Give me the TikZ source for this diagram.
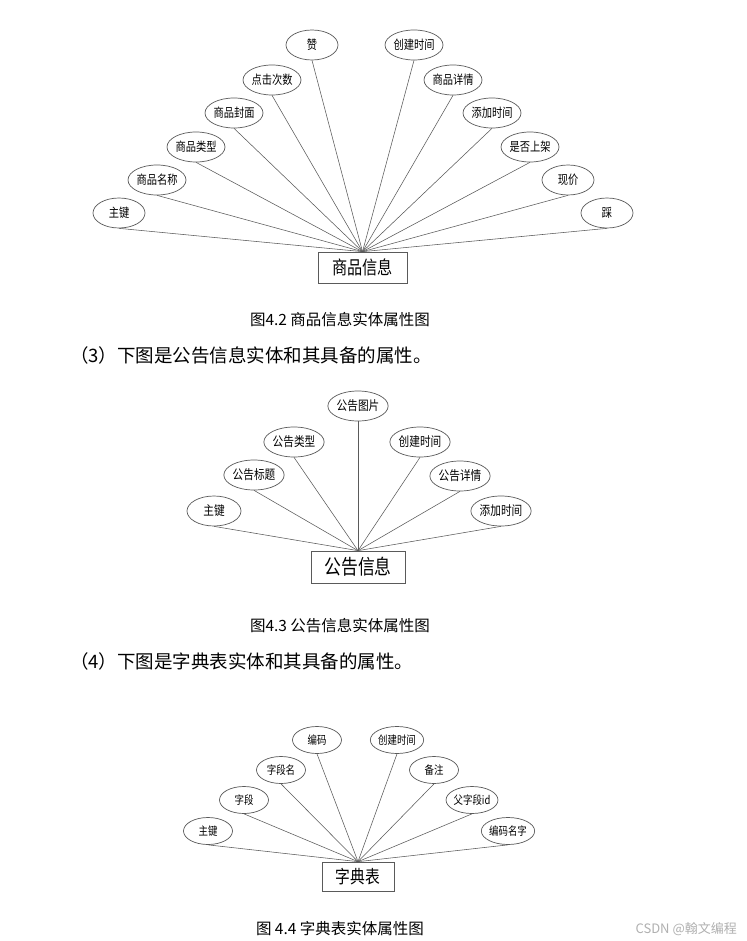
\documentclass[tikz,border=0pt]{standalone}
\usepackage{fontspec}
\usetikzlibrary{shapes.geometric}
\newfontfamily\cjk{Noto Sans CJK SC}
\newfontfamily\cjkn[FakeStretch=0.82]{Noto Sans CJK SC}
\definecolor{linegray}{HTML}{5A5A5A}
\definecolor{wm}{HTML}{B0B0B0}
\tikzset{
  attr/.style={ellipse, draw=linegray, line width=0.7pt, inner sep=0pt,
    minimum width=52pt, minimum height=30pt, font=\cjkn\fontsize{12.5}{12.5}\selectfont},
  attrs/.style={attr, minimum width=49pt, minimum height=27pt, font=\cjkn\fontsize{11.5}{11.5}\selectfont},
  attrm/.style={attr, minimum width=54pt, minimum height=30pt, font=\cjkn\fontsize{13}{13}\selectfont},
  ent/.style={rectangle, draw=linegray, line width=0.7pt, inner sep=0pt},
  conn/.style={draw=linegray, line width=0.55pt},
  figcap/.style={font=\cjk\fontsize{15.5}{15.5}\selectfont, inner sep=0pt},
  para/.style={font=\cjk\fontsize{18.5}{18.5}\selectfont, inner sep=0pt, anchor=west}
}
\begin{document}
\begin{tikzpicture}[x=1pt,y=-1pt]
\useasboundingbox[fill=white] (0,0) rectangle (746,941);

% ---------- Figure 4.2 ----------
\node[ent, minimum width=89pt, minimum height=31pt, font=\cjkn\fontsize{18.5}{18.5}\selectfont] (g) at (362.5,267.5) {商品信息};
\node[attr] (g1) at (119,213) {主键};
\node[attr] (g2) at (157,180) {商品名称};
\node[attr] (g3) at (196,147) {商品类型};
\node[attr] (g4) at (234,113) {商品封面};
\node[attr] (g5) at (272,80) {点击次数};
\node[attr] (g6) at (312,45) {赞};
\node[attr] (g7) at (414,45) {创建时间};
\node[attr] (g8) at (453,80) {商品详情};
\node[attr] (g9) at (492,113) {添加时间};
\node[attr] (g10) at (530,147) {是否上架};
\node[attr] (g11) at (568,180) {现价};
\node[attr] (g12) at (607,213) {踩};
\foreach \i in {1,...,12} {\draw[conn] (g\i.south) -- (g.north);}
\node[figcap] (c2) at (340,320) {图4.2 商品信息实体属性图};
\node[para] (p3) at (70,355) {（3）下图是公告信息实体和其具备的属性。};

% ---------- Figure 4.3 ----------
\node[ent, minimum width=94pt, minimum height=32pt, font=\cjkn\fontsize{20.5}{20.5}\selectfont] (n) at (358,567) {公告信息};
\node[attrm] (n1) at (214,511) {主键};
\node[attrm] (n2) at (254,475) {公告标题};
\node[attrm] (n3) at (294,442) {公告类型};
\node[attrm] (n4) at (358,406) {公告图片};
\node[attrm] (n5) at (420,442) {创建时间};
\node[attrm] (n6) at (460,476) {公告详情};
\node[attrm] (n7) at (501,511) {添加时间};
\foreach \i in {1,...,7} {\draw[conn] (n\i.south) -- (n.north);}
\node[figcap] (c3) at (340,626) {图4.3 公告信息实体属性图};
\node[para] (p4) at (70,661) {（4）下图是字典表实体和其具备的属性。};

% ---------- Figure 4.4 ----------
\node[ent, minimum width=72pt, minimum height=29pt, font=\cjkn\fontsize{18}{18}\selectfont] (d) at (358,876.5) {字典表};
\node[attrs] (d1) at (208,831) {主键};
\node[attrs] (d2) at (244,800) {字段};
\node[attrs] (d3) at (281,770) {字段名};
\node[attrs] (d4) at (317,740) {编码};
\node[attrs] (d5) at (397,740) {创建时间};
\node[attrs] (d6) at (434,770) {备注};
\node[attrs] (d7) at (472,800) {父字段id};
\node[attrs] (d8) at (508,831) {编码名字};
\foreach \i in {1,...,8} {\draw[conn] (d\i.south) -- (d.north);}
\node[figcap] (c4) at (340,929) {图 4.4 字典表实体属性图};
\node[font=\cjk\fontsize{13}{13}\selectfont, text=wm, inner sep=0pt, anchor=east] (w) at (737,929) {CSDN @翰文编程};
\end{tikzpicture}
\end{document}
